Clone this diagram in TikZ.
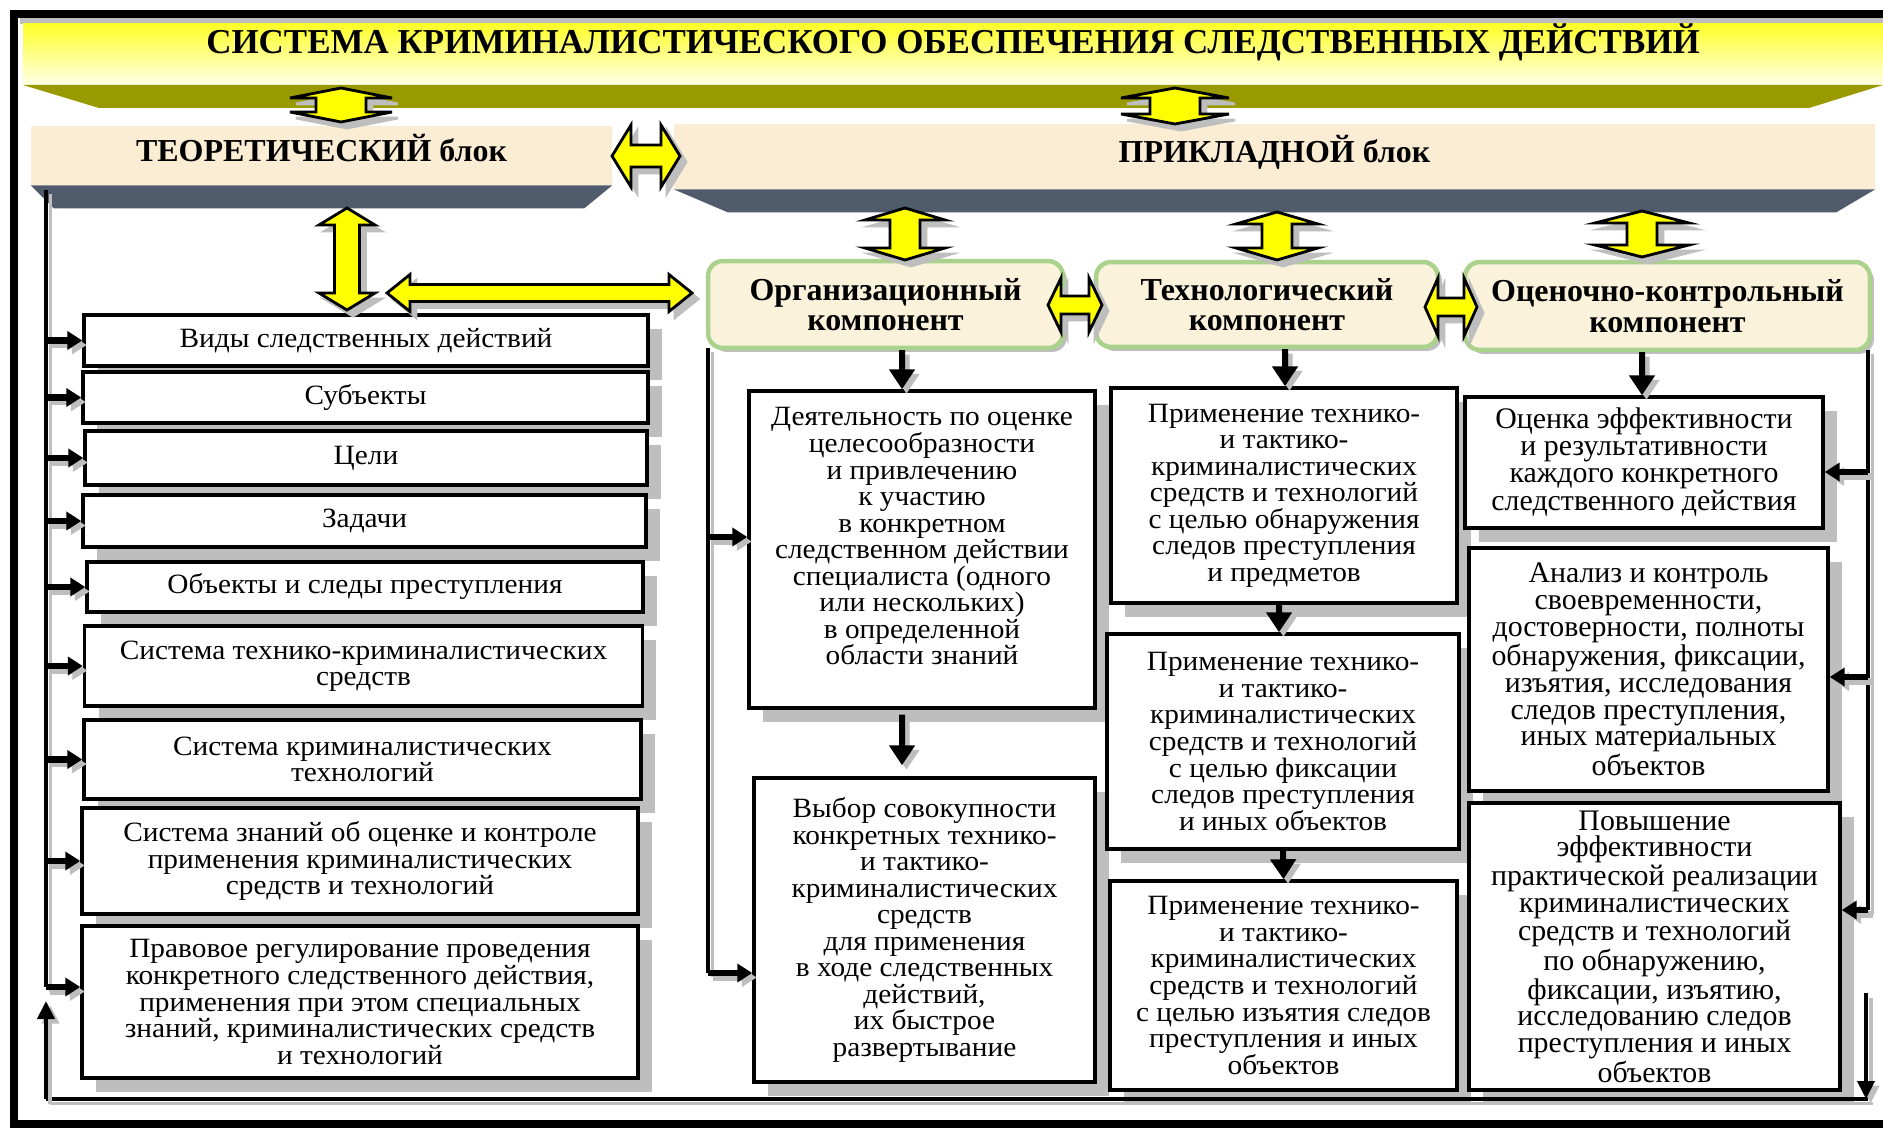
\documentclass[tikz,border=0pt]{standalone}
\usepackage{fontspec}
\setmainfont{Liberation Serif}
\newfontfamily\boxfont[FakeStretch=1.05]{Liberation Serif}
\usetikzlibrary{arrows.meta,shadows}

\definecolor{titleyellow}{RGB}{255,255,40}
\definecolor{titlepale}{RGB}{255,255,232}
\definecolor{olivebar}{RGB}{153,153,0}
\definecolor{slatebar}{RGB}{80,91,107}
\definecolor{blockbeige}{RGB}{251,236,212}
\definecolor{compfill}{RGB}{250,242,218}
\definecolor{compline}{RGB}{170,210,140}
\definecolor{arrowyellow}{RGB}{255,255,0}
\definecolor{shadowgray}{RGB}{190,190,190}

% block double arrows: centre, half length, shaft half width, head half width, head length
\newcommand{\vdblarrow}[5]{%
  \foreach \sh/\fc/\dc in {0.12/shadowgray/shadowgray, 0/arrowyellow/black}
    \filldraw[fill=\fc, draw=\dc, line width=1.6pt, shift={#1}, xshift=\sh cm, yshift=-\sh cm]
      (0,-#2) -- (#4,-#2+#5) -- (#3,-#2+#5) -- (#3,#2-#5) -- (#4,#2-#5) -- (0,#2)
      -- (-#4,#2-#5) -- (-#3,#2-#5) -- (-#3,-#2+#5) -- (-#4,-#2+#5) -- cycle;}
\newcommand{\hdblarrow}[5]{%
  \foreach \sh/\fc/\dc in {0.12/shadowgray/shadowgray, 0/arrowyellow/black}
    \filldraw[fill=\fc, draw=\dc, line width=1.6pt, shift={#1}, xshift=\sh cm, yshift=-\sh cm]
      (-#2,0) -- (-#2+#5,-#4) -- (-#2+#5,-#3) -- (#2-#5,-#3) -- (#2-#5,-#4) -- (#2,0)
      -- (#2-#5,#4) -- (#2-#5,#3) -- (-#2+#5,#3) -- (-#2+#5,#4) -- cycle;}
\newcommand{\sdraw}[2]{%
  \draw[#1, shadowgray, transform canvas={shift={(0.09cm,-0.09cm)}}] #2;
  \draw[#1] #2;}

\begin{document}
\begin{tikzpicture}[x=0.02cm,y=-0.02cm,
  item/.style={draw, line width=0.07cm, fill=white, align=center, inner sep=1pt,
    font=\boxfont\fontsize{15.9}{15.1}\selectfont,
    drop shadow={shadow xshift=0.28cm, shadow yshift=-0.28cm, fill=shadowgray, opacity=1}},
  evalitem/.style={item, font=\rmfamily\fontsize{17}{15.2}\selectfont},
  comp/.style={draw=compline, line width=0.09cm, fill=compfill, rounded corners=0.3cm,
    align=center, inner sep=1pt, font=\fontsize{18.2}{17.3}\selectfont\bfseries,
    drop shadow={shadow xshift=0.08cm, shadow yshift=-0.08cm, fill=shadowgray, opacity=1}},
  blockbar/.style={fill=blockbeige, inner sep=0pt, text height=0.45cm, text depth=0.2cm,
    font=\fontsize{18.2}{20}\selectfont\bfseries},
  bigarrow/.style={line width=0.12cm, -{Triangle[width=0.5cm,length=0.4cm]}},
  smallarrow/.style={line width=0.13cm, -{Triangle[width=0.36cm,length=0.3cm]}},
  thinarrow/.style={line width=0.08cm, -{Triangle[width=0.34cm,length=0.36cm]}},
  feedline/.style={line width=0.07cm}]
\useasboundingbox (0,0) rectangle (1883,1128);
\fill[white] (0,0) rectangle (1883,1128);

\draw[line width=0.16cm] (1900,14) -- (14,14) -- (14,1124) -- (1900,1124);
\draw[shadowgray, line width=0.13cm] (20,21) -- (1900,21);
\shade[top color=titleyellow, bottom color=titlepale] (23,24) rectangle (1890,85);
\fill[olivebar] (23,85) -- (1883,85) -- (1809,108) -- (99,108) -- cycle;
\node[font=\fontsize{19.9}{22}\selectfont\bfseries] (title) at (953,42) {СИСТЕМА КРИМИНАЛИСТИЧЕСКОГО ОБЕСПЕЧЕНИЯ СЛЕДСТВЕННЫХ ДЕЙСТВИЙ};

\node[blockbar, minimum width=11.62cm, minimum height=1.18cm] (thb) at (321.5,155.5) {ТЕОРЕТИЧЕСКИЙ блок};
\node[blockbar, minimum width=24.02cm, minimum height=1.3cm] (apb) at (1274.5,156.5) {ПРИКЛАДНОЙ блок};
\fill[slatebar] (thb.south west) -- (thb.south east) -- ([xshift=-0.56cm,yshift=-0.46cm]thb.south east) -- ([xshift=0.46cm,yshift=-0.46cm]thb.south west) -- cycle;
\fill[slatebar] (apb.south west) -- (apb.south east) -- ([xshift=-0.78cm,yshift=-0.46cm]apb.south east) -- ([xshift=1.08cm,yshift=-0.46cm]apb.south west) -- cycle;

\node[item, minimum width=11.28cm, minimum height=1.02cm] (vid) at (366,340.5) {Виды следственных действий};
\node[item, minimum width=11.3cm, minimum height=1.02cm] (subj) at (365.5,397.5) {Субъекты};
\node[item, minimum width=11.24cm, minimum height=1.08cm] (goal) at (366,458) {Цели};
\node[item, minimum width=11.26cm, minimum height=1.04cm] (task) at (364.5,521) {Задачи};
\node[item, minimum width=11.12cm, minimum height=1.0cm] (obj) at (365,587) {Объекты и следы преступления};
\node[item, minimum width=11.16cm, minimum height=1.6cm] (tksys) at (363.5,666) {Система технико-криминалистических\\средств};
\node[item, minimum width=11.14cm, minimum height=1.58cm] (ktsys) at (362.5,759.5) {Система криминалистических\\технологий};
\node[item, minimum width=11.12cm, minimum height=2.12cm] (know) at (360,861) {Система знаний об оценке и контроле\\применения криминалистических\\средств и технологий};
\node[item, minimum width=11.12cm, minimum height=3.04cm] (law) at (360,1002) {Правовое регулирование проведения\\конкретного следственного действия,\\применения при этом специальных\\знаний, криминалистических средств\\и технологий};

\node[comp, minimum width=7.1cm, minimum height=1.74cm] (corg) at (885.5,304.5) {Организационный\\компонент};
\node[comp, minimum width=6.84cm, minimum height=1.7cm] (ctech) at (1267,304.5) {Технологический\\компонент};
\node[comp, minimum width=8.1cm, minimum height=1.76cm] (ceval) at (1667.5,306) {Оценочно-контрольный\\компонент};

\node[item, minimum width=6.92cm, minimum height=6.34cm] (org1) at (922,549.5) {Деятельность по оценке\\целесообразности\\и привлечению\\к участию\\в конкретном\\следственном действии\\специалиста (одного\\или нескольких)\\в определенной\\области знаний\\ \mbox{}};
\node[item, minimum width=6.82cm, minimum height=6.08cm] (org2) at (924.5,930) {Выбор совокупности\\конкретных технико-\\и тактико-\\криминалистических\\средств\\для применения\\в ходе следственных\\действий,\\их быстрое\\развертывание};
\node[item, minimum width=6.92cm, minimum height=4.3cm] (tech1) at (1284,495.5) {Применение технико-\\и тактико-\\криминалистических\\средств и технологий\\с целью обнаружения\\следов преступления\\и предметов};
\node[item, minimum width=7.04cm, minimum height=4.3cm] (tech2) at (1283,741.5) {Применение технико-\\и тактико-\\криминалистических\\средств и технологий\\с целью фиксации\\следов преступления\\и иных объектов};
\node[item, minimum width=6.94cm, minimum height=4.18cm] (tech3) at (1283.5,985.5) {Применение технико-\\и тактико-\\криминалистических\\средств и технологий\\с целью изъятия следов\\преступления и иных\\объектов};
\node[evalitem, minimum width=7.16cm, minimum height=2.62cm] (eval1) at (1644,462.5) {Оценка эффективности\\и результативности\\каждого конкретного\\следственного действия};
\node[evalitem, minimum width=7.18cm, minimum height=4.86cm] (eval2) at (1648.5,669.5) {Анализ и контроль\\своевременности,\\достоверности, полноты\\обнаружения, фиксации,\\изъятия, исследования\\следов преступления,\\иных материальных\\объектов};
\node[evalitem, minimum width=7.42cm, minimum height=5.74cm] (eval3) at (1654.5,946.5) {Повышение\\эффективности\\практической реализации\\криминалистических\\средств и технологий\\по обнаружению,\\фиксации, изъятию,\\исследованию следов\\преступления и иных\\объектов};

\sdraw{bigarrow}{([xshift=0.33cm]corg.south) -- ([xshift=-0.4cm]org1.north)}
\sdraw{bigarrow}{([xshift=0.36cm]ctech.south) -- ([xshift=0.02cm]tech1.north)}
\sdraw{bigarrow}{([xshift=-0.51cm]ceval.south) -- ([xshift=-0.04cm]eval1.north)}
\sdraw{bigarrow}{([xshift=-0.4cm,yshift=-0.1cm]org1.south) -- ([xshift=-0.45cm,yshift=0.22cm]org2.north)}
\sdraw{bigarrow}{([xshift=-0.1cm]tech1.south) -- ([xshift=-0.08cm]tech2.north)}
\sdraw{bigarrow}{(tech2.south) -- (tech3.north)}

\coordinate (fbltop) at (46,190);
\coordinate (fblbot) at (46,1099);
\coordinate (fblup) at (46,1001);
\coordinate (fbrtop) at (1868,350);
\coordinate (fbrbot) at (1868,1099);
\coordinate (fbrdown) at (1866,993);
\coordinate (fbotop) at (708,348);
\coordinate (lawin) at ([yshift=0.3cm]law.west);
\coordinate (org1in) at ([yshift=0.25cm]org1.west);
\coordinate (org2in) at ([yshift=-0.86cm]org2.west);
\coordinate (ev1in) at ([yshift=-0.19cm]eval1.east);
\coordinate (ev2in) at ([yshift=-0.15cm]eval2.east);
\coordinate (ev3in) at ([yshift=0.73cm]eval3.east);

\sdraw{feedline}{(fbltop) -- (fbltop |- lawin)}
\foreach \b in {vid,subj,goal,task,obj,tksys,ktsys,know,lawin} {\sdraw{smallarrow}{(fbltop |- \b) -- (\b)}}
\sdraw{feedline}{(fbotop) -- (fbotop |- org2in)}
\foreach \b in {org1in,org2in} {\sdraw{smallarrow}{(fbotop |- \b) -- (\b)}}
\sdraw{feedline}{(fbrtop) -- (fbrtop |- ev3in)}
\foreach \b in {ev1in,ev2in,ev3in} {\sdraw{smallarrow}{(fbrtop |- \b) -- (\b)}}
\sdraw{feedline}{(fbrbot) -- (fblbot)}
\sdraw{thinarrow}{(fblbot) -- (fblup)}
\sdraw{thinarrow}{(fbrdown) -- (fbrdown |- fbrbot)}

\vdblarrow{(341,105)}{17}{25}{51}{10}
\vdblarrow{(1175,106)}{18}{25}{54}{10}
\hdblarrow{(646,156)}{34}{11}{31}{19}
\vdblarrow{(347,259)}{51}{12.5}{28}{17}
\hdblarrow{(539.5,293)}{152.5}{8.5}{18.5}{23}
\vdblarrow{(905,234)}{26}{15}{40}{12}
\vdblarrow{(1277,236)}{24}{15}{41}{12}
\vdblarrow{(1642,234)}{23}{15}{47}{12}
\hdblarrow{(1075,305)}{27}{9}{27}{13}
\hdblarrow{(1451,307)}{26}{9}{29}{13}
\end{tikzpicture}
\end{document}
